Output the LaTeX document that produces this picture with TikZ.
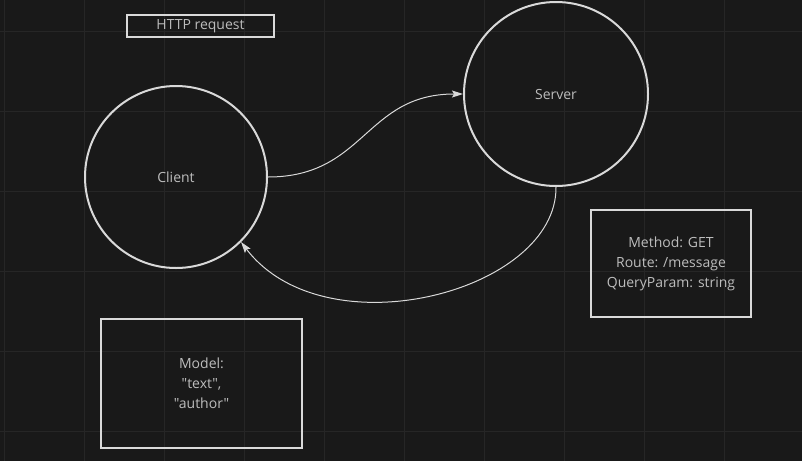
\documentclass[tikz,border=0pt]{standalone}
\usepackage{fontspec}
\newfontfamily\osans{Open Sans}
\usetikzlibrary{arrows.meta}
\definecolor{bg}{HTML}{191919}
\definecolor{gridc}{HTML}{262626}
\definecolor{strokec}{HTML}{D9D9D9}
\definecolor{textc}{HTML}{BDBDBD}
\tikzset{
  shapebox/.style={draw=strokec, line width=2pt, rectangle, inner sep=0pt, text=textc, font=\osans\fontsize{14}{20}\selectfont, align=center},
  circ/.style={draw=strokec, line width=2pt, circle, inner sep=0pt, text=textc, font=\osans\fontsize{14}{20}\selectfont},
  conn/.style={draw=strokec, line width=1pt, -{Stealth[length=11pt,width=7pt,inset=2pt]}},
}
\begin{document}
\begin{tikzpicture}[x=1pt,y=-1pt]
\fill[bg] (0,0) rectangle (802,461);
\useasboundingbox (0,0) rectangle (802,461);
\foreach \gx in {4,84,...,724} \draw[gridc, line width=1pt] (\gx,0) -- (\gx,461);
\foreach \gy in {31,111,...,431} \draw[gridc, line width=1pt] (0,\gy) -- (802,\gy);
\node[shapebox, minimum width=147pt, minimum height=22pt] (http) at (200.5,26) {HTTP request};
\node[circ, minimum size=182pt] (client) at (176,177) {Client};
\node[circ, minimum size=184pt] (server) at (556,94) {Server};
\node[shapebox, minimum width=160pt, minimum height=107pt] (method) at (671,263.5) {Method: GET\\Route: /message\\QueryParam: string};
\node[shapebox, minimum width=201pt, minimum height=129pt] (model) at (201.5,383.5) {Model:\\"text",\\"author"};
\draw[conn] (client.east) .. controls (365,177) and (365,94) .. (server.west);
\draw[conn] (server.south) .. controls (557,292) and (325,352) .. (client.-45);
\end{tikzpicture}
\end{document}
